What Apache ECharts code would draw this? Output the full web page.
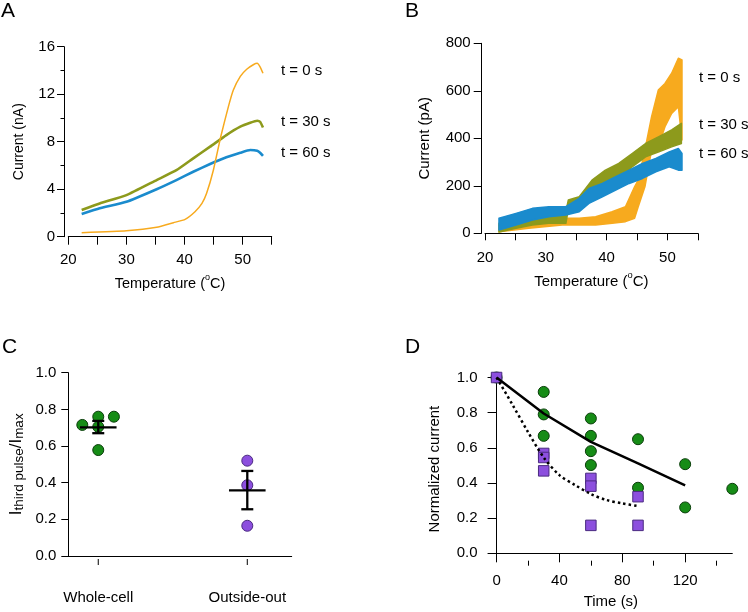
<!DOCTYPE html>
<html><head><meta charset="utf-8">
<script src="https://cdn.jsdelivr.net/npm/echarts@6/dist/echarts.min.js"></script>
<style>html,body{margin:0;padding:0;background:#fff}#c{width:748px;height:612px}</style>
</head><body><div id="c"></div>
<script>
// ---------- Panel A (whole-cell, nA) ----------
const aT0  = [22.3,30.0,35.2,38.1,40.1,41.8,43.0,43.8,44.97,46.23,47.55,48.4,49.6,50.7,51.9,52.5,53.0,53.5];
const aI0  = [0.34,0.5,0.79,1.18,1.46,2.1,2.8,3.65,5.62,8.42,10.95,12.35,13.5,14.1,14.5,14.6,14.3,13.76];
const aT30 = [22.3,25.4,30.0,35.2,38.6,41.5,44.4,47.2,49.6,51.3,52.5,53.0,53.5];
const aI30 = [2.25,2.8,3.5,4.77,5.6,6.6,7.58,8.56,9.27,9.6,9.77,9.68,9.2];
const aT60 = [22.3,25.4,30.0,35.2,38.6,41.5,44.4,47.2,49.6,51.3,52.5,53.0,53.5];
const aI60 = [1.91,2.39,2.94,4.0,4.77,5.47,6.12,6.69,7.07,7.3,7.24,7.07,6.8];
// ---------- Panel B (outside-out, pA): band low / high ----------
const bT0   = [22.3,27.2,32.7,35.5,38.2,40.9,43.1,44.6,45.2,46.3,47.4,48.5,49.6,50.7,51.8,52.4];
const bLo0  = [7,21,35,35,35,42,49,63,112,196,351,365,449,505,533,393];
const bHi0  = [35,49,63,63,70,91,112,196,224,351,491,603,631,674,737,730];
const bT30  = [22.3,25.1,27.8,30.5,33.3,33.7,35.5,37.6,39.8,42.0,44.2,46.4,48.6,50.7,52.3];
const bLo30 = [5,21,35,42,42,100,112,168,196,224,280,322,343,364,378];
const bHi30 = [42,56,77,84,91,140,154,224,266,294,336,378,407,435,463];
const bT60  = [22.3,25.1,27.8,30.5,33.3,35.5,37.1,39.3,41.5,43.7,45.9,48.1,50.3,51.8,52.4];
const bLo60 = [14,35,56,70,77,91,126,154,182,210,231,259,280,266,266];
const bHi60 = [63,84,105,112,112,147,189,210,238,266,294,315,343,357,336];
const traceLabels = ['t = 0 s','t = 30 s','t = 60 s'];
// ---------- Panel C ----------
const cCategories = ['Whole-cell','Outside-out'];
const cWholeX = [0.893,1.0,1.105,1.0,1.0];
const cWholeY = [0.715,0.760,0.760,0.705,0.578];
const cOutX = [2,2,2];
const cOutY = [0.520,0.386,0.165];
const cMeanX = [1,2];
const cMean  = [0.702,0.358];
const cSemLo = [0.670,0.255];
const cSemHi = [0.737,0.464];
// ---------- Panel D ----------
const dWcT = [0,30,30,30,60,60,60,60,90,90,120,120,150];
const dWcV = [1.0,0.918,0.790,0.668,0.767,0.668,0.581,0.502,0.649,0.373,0.507,0.261,0.367];
const dOoT = [0,30,30,30,60,60,60,90,90];
const dOoV = [1.0,0.568,0.545,0.469,0.426,0.382,0.159,0.322,0.159];
const dWcMeanT = [0,30,60,90,120];
const dWcMean  = [1.0,0.795,0.634,0.511,0.387];
const dOoFitT = [0,10,20,30,40,50,60,70,80,90];
const dOoFit  = [1.0,0.847,0.69,0.545,0.445,0.388,0.337,0.303,0.284,0.269];
const dXMajor = [0,40,80,120];
const dXMinor = [20,60,100,140];
const dYTicks = [0,0.2,0.4,0.6,0.8,1.0];

const FF = 'Liberation Sans, Arial, Helvetica, sans-serif';
const K = '#000';
const ORANGE = '#F7AA1E', OLIVE = '#8D9A1C', BLUE = '#1A8BCD';
const GREEN = '#168C16', PURPLE = '#8C4FDE';
const zip = (a,b) => a.map((v,i)=>[v,b[i]]);

const lineAx = {lineStyle:{color:K,width:1}};
function base(extra){ return Object.assign({type:'value', splitLine:{show:false}, axisLine:lineAx}, extra); }

const tempName = (fs) => ({
  name:'{a|Temperature (}{s|o}{a|C)}', nameLocation:'middle',
  nameTextStyle:{rich:{a:{fontSize:fs,fontFamily:FF,color:K,lineHeight:22},
                       s:{fontSize:fs*0.62,fontFamily:FF,color:K,verticalAlign:'top',lineHeight:fs*0.62}}}
});

const xAxis = [
  base(Object.assign({gridIndex:0,position:'bottom',min:20,max:55,interval:5,offset:2.3,nameGap:34,
    axisTick:{length:8,lineStyle:{color:K}},
    axisLabel:{fontSize:15,fontFamily:FF,color:K,margin:13,formatter:v=>v%10===0?String(v):''}},tempName(14.5))),
  base(Object.assign({gridIndex:1,position:'bottom',min:20,max:55,interval:5,offset:4,nameGap:34,
    axisTick:{length:7,lineStyle:{color:K}},
    axisLabel:{fontSize:15,fontFamily:FF,color:K,margin:13,formatter:v=>v%10===0?String(v):''}},tempName(15))),
  base({gridIndex:2,position:'bottom',min:0.799,max:2.298,axisTick:{show:false},
    axisLabel:{customValues:cMeanX,fontSize:15,fontFamily:FF,color:K,margin:34,
      formatter:v=>cCategories[Math.round(v)-1]}}),
  base({gridIndex:3,position:'bottom',min:-4.5,max:150,name:'Time (s)',nameLocation:'middle',nameGap:34,
    nameTextStyle:{fontSize:15,fontFamily:FF,color:K},
    axisTick:{customValues:dXMajor,length:9,lineStyle:{color:K}},
    axisLabel:{customValues:dXMajor,fontSize:15,fontFamily:FF,color:K,margin:13}}),
  base({gridIndex:3,position:'bottom',min:-4.5,max:150,axisLine:{show:false},
    axisTick:{customValues:dXMinor,length:5,lineStyle:{color:K}},axisLabel:{show:false}})
];

const yAxis = [
  base({gridIndex:0,position:'left',min:0,max:16,interval:4,offset:4.3,name:'Current (nA)',nameLocation:'middle',nameGap:38,
    nameTextStyle:{fontSize:14,fontFamily:FF,color:K},
    axisTick:{length:7,lineStyle:{color:K}},minorTick:{show:true,splitNumber:2,length:3.5,lineStyle:{color:K}},
    axisLabel:{fontSize:15,fontFamily:FF,color:K,margin:9}}),
  base({gridIndex:1,position:'left',min:0,max:800,interval:200,offset:3.3,name:'Current (pA)',nameLocation:'middle',nameGap:49,
    nameTextStyle:{fontSize:15,fontFamily:FF,color:K},
    axisTick:{length:8,lineStyle:{color:K}},
    axisLabel:{fontSize:15,fontFamily:FF,color:K,margin:11}}),
  base({gridIndex:2,position:'left',min:0,max:1,interval:0.2,
    name:'{a|I}{b|third pulse}{a|/I}{b|max}',nameLocation:'middle',nameGap:42,
    nameTextStyle:{rich:{a:{fontSize:17,fontFamily:FF,color:K,lineHeight:20},
                         b:{fontSize:13.5,fontFamily:FF,color:K,verticalAlign:'bottom',lineHeight:14}}},
    axisTick:{length:7,lineStyle:{color:K}},
    axisLabel:{fontSize:15,fontFamily:FF,color:K,margin:12,formatter:v=>v.toFixed(1)}}),
  base({gridIndex:3,position:'left',min:-0.042,max:1.0,name:'Normalized current',nameLocation:'middle',nameGap:47,
    nameTextStyle:{fontSize:15,fontFamily:FF,color:K},
    axisTick:{customValues:dYTicks,length:9,lineStyle:{color:K}},
    axisLabel:{customValues:dYTicks,fontSize:15,fontFamily:FF,color:K,margin:12,formatter:v=>v.toFixed(1)}})
];

function aLine(T,I,color,w){
  return {type:'line',xAxisIndex:0,yAxisIndex:0,data:zip(T,I),showSymbol:false,smooth:0.15,
    lineStyle:{color:color,width:w,join:'round'},silent:true};
}
// band drawn as one polygon through the axis scales
function bBand(T,lo,hi,color,z){
  return {type:'custom',xAxisIndex:1,yAxisIndex:1,z:z,silent:true,
    data:T.map((t,i)=>[t,lo[i],hi[i]]),
    encode:{x:0,y:[1,2]},
    renderItem:function(params,api){
      if (params.dataIndex!==0) return null;
      const up=[], dn=[];
      for (let i=0;i<T.length;i++){ up.push(api.coord([T[i],hi[i]])); dn.push(api.coord([T[i],lo[i]])); }
      const pts = up.concat(dn.reverse());
      return {type:'polygon',shape:{points:pts},style:{fill:color,stroke:color,lineWidth:1.5,lineJoin:'round'}};
    }};
}

const series = [
  aLine(aT60,aI60,BLUE,2.6),
  aLine(aT30,aI30,OLIVE,2.6),
  aLine(aT0,aI0,ORANGE,1.5),
  bBand(bT0,bLo0,bHi0,ORANGE,2),
  bBand(bT30,bLo30,bHi30,OLIVE,3),
  bBand(bT60,bLo60,bHi60,BLUE,4),
  {type:'scatter',xAxisIndex:2,yAxisIndex:2,data:zip(cWholeX,cWholeY),symbol:'circle',symbolSize:11,
    itemStyle:{color:GREEN,borderColor:'#0b3f0b',borderWidth:1,opacity:1},z:3},
  {type:'scatter',xAxisIndex:2,yAxisIndex:2,data:zip(cOutX,cOutY),symbol:'circle',symbolSize:11,
    itemStyle:{color:PURPLE,borderColor:'#4a2a80',borderWidth:1,opacity:1},z:3},
  {type:'custom',xAxisIndex:2,yAxisIndex:2,z:5,silent:true,clip:false,
    data:cMeanX.map((x,i)=>[x,cMean[i],cSemLo[i],cSemHi[i]]),
    encode:{x:0,y:1},
    renderItem:function(params,api){
      const x=api.value(0);
      const pm=api.coord([x,api.value(1)]), pl=api.coord([x,api.value(2)]), ph=api.coord([x,api.value(3)]);
      const p0=api.coord([x,0]);
      const st={stroke:K,lineWidth:2.3};
      return {type:'group',children:[
        {type:'line',shape:{x1:pm[0]-18.3,y1:pm[1],x2:pm[0]+18.3,y2:pm[1]},style:st},
        {type:'line',shape:{x1:pl[0],y1:pl[1],x2:ph[0],y2:ph[1]},style:st},
        {type:'line',shape:{x1:pl[0]-6,y1:pl[1],x2:pl[0]+6,y2:pl[1]},style:st},
        {type:'line',shape:{x1:ph[0]-6,y1:ph[1],x2:ph[0]+6,y2:ph[1]},style:st},
        // category tick below the axis line, detached as in the figure
        {type:'line',shape:{x1:p0[0],y1:p0[1]+3,x2:p0[0],y2:p0[1]+9},style:{stroke:K,lineWidth:1}}
      ]};
    }},
  {type:'scatter',xAxisIndex:3,yAxisIndex:3,data:zip(dWcT,dWcV),symbol:'circle',symbolSize:11,
    itemStyle:{color:GREEN,borderColor:'#0b3f0b',borderWidth:1,opacity:1},z:2},
  {type:'scatter',xAxisIndex:3,yAxisIndex:3,data:zip(dOoT,dOoV),symbol:'rect',symbolSize:10.5,
    itemStyle:{color:PURPLE,borderColor:'#4a2a80',borderWidth:1,opacity:1},z:3},
  {type:'line',xAxisIndex:3,yAxisIndex:3,data:zip(dWcMeanT,dWcMean),showSymbol:false,
    lineStyle:{color:K,width:2.5},silent:true,z:4},
  {type:'line',xAxisIndex:3,yAxisIndex:3,data:zip(dOoFitT,dOoFit),showSymbol:false,smooth:0.3,
    lineStyle:{color:K,width:2.5,type:[2.5,3]},silent:true,z:4}
];

function txt(s,x,y,fs){
  return {type:'text',x:x,y:y,style:{text:s,fontSize:fs,fontFamily:FF,fill:K,align:'left',verticalAlign:'middle',
    textAlign:'left',textVerticalAlign:'middle'},silent:true};
}
const graphic = [
  txt('A',1,11,21), txt('B',405,11,21), txt('C',2,347,21), txt('D',405,347,21),
  txt(traceLabels[0],281,70.7,15), txt(traceLabels[1],281,121.7,15), txt(traceLabels[2],281,153.3,15),
  txt(traceLabels[0],699,78.3,15), txt(traceLabels[1],699,125,15), txt(traceLabels[2],699,154,15)
];

const grid = [
  {left:68.3,top:46.7,width:203.4,height:190,outerBoundsMode:'none'},
  {left:485,top:43.3,width:212.8,height:190,outerBoundsMode:'none'},
  {left:68.3,top:372.7,width:223.4,height:183.3,outerBoundsMode:'none'},
  {left:489.5,top:377.5,width:242.8,height:183.2,outerBoundsMode:'none'}
];

const chart = echarts.init(document.getElementById('c'));
chart.setOption({animation:false,backgroundColor:'#fff',grid,xAxis,yAxis,series,graphic});
</script></body></html>
